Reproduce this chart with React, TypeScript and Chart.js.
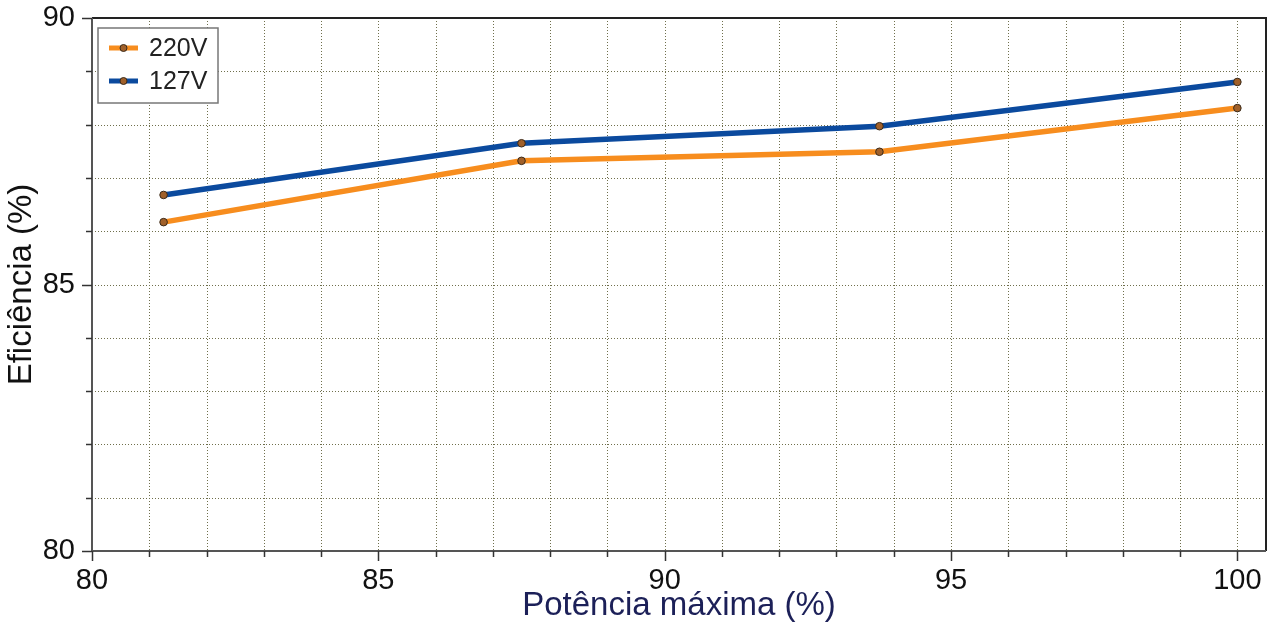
import React, { useEffect, useRef } from "react";
import { Chart, registerables } from "chart.js";

Chart.register(...registerables);

const xValues = [81.25, 87.5, 93.75, 100];
const series220 = [86.17, 87.32, 87.49, 88.31];
const series127 = [86.68, 87.65, 87.97, 88.8];
const seriesNames = ["220V", "127V"];
const seriesColors = ["#f78d1e", "#0b4a9e"];
const xGridValues = [81, 82, 83, 84, 85, 86, 87, 88, 89, 90, 91, 92, 93, 94, 95, 96, 97, 98, 99, 100];
const yGridValues = [81, 82, 83, 84, 85, 86, 87, 88, 89];

const FONT = "'Liberation Sans', 'DejaVu Sans', sans-serif";
const GRID = "#6f6f4c";

const gridPlugin = {
  id: "dottedGrid",
  beforeDatasetsDraw(chart: any) {
    const { ctx, chartArea } = chart;
    const { left, right, top, bottom } = chartArea;
    const xs = chart.scales.x;
    const ys = chart.scales.y;
    ctx.save();
    ctx.strokeStyle = GRID;
    ctx.lineWidth = 1;
    ctx.setLineDash([1, 2]);
    xGridValues.forEach((v) => {
      const px = Math.round(xs.getPixelForValue(v)) + 0.5;
      ctx.beginPath();
      ctx.moveTo(px, top);
      ctx.lineTo(px, bottom);
      ctx.stroke();
    });
    yGridValues.forEach((v) => {
      const py = Math.round(ys.getPixelForValue(v)) + 0.5;
      ctx.beginPath();
      ctx.moveTo(left, py);
      ctx.lineTo(right, py);
      ctx.stroke();
    });
    ctx.restore();
  },
};

const framePlugin = {
  id: "frameAndLegend",
  afterDraw(chart: any) {
    const { ctx, chartArea } = chart;
    const { left, right, top, bottom } = chartArea;
    ctx.save();
    ctx.strokeStyle = "#222";
    ctx.lineWidth = 2;
    ctx.beginPath();
    ctx.moveTo(left, top);
    ctx.lineTo(right, top);
    ctx.lineTo(right, bottom);
    ctx.stroke();
    ctx.strokeStyle = "#555";
    ctx.lineWidth = 2;
    ctx.beginPath();
    ctx.moveTo(left, top);
    ctx.lineTo(left, bottom);
    ctx.lineTo(right, bottom);
    ctx.stroke();
    const xs = chart.scales.x;
    const ys = chart.scales.y;
    ctx.strokeStyle = "#333";
    ctx.lineWidth = 1.5;
    for (let v = 80; v <= 100; v++) {
      const px = Math.round(xs.getPixelForValue(v)) + 0.5;
      const len = v % 5 === 0 ? 10 : 6;
      ctx.beginPath();
      ctx.moveTo(px, bottom);
      ctx.lineTo(px, bottom + len);
      ctx.stroke();
    }
    for (let v = 80; v <= 90; v++) {
      const py = Math.round(ys.getPixelForValue(v)) + 0.5;
      const len = v % 5 === 0 ? 10 : 6;
      ctx.beginPath();
      ctx.moveTo(left, py);
      ctx.lineTo(left - len, py);
      ctx.stroke();
    }
    const lx = left + 6;
    const ly = top + 10;
    const lw = 120;
    const lh = 75;
    ctx.fillStyle = "#fff";
    ctx.fillRect(lx, ly, lw, lh);
    ctx.strokeStyle = "#777";
    ctx.lineWidth = 1.5;
    ctx.strokeRect(lx, ly, lw, lh);
    seriesNames.forEach((name, i) => {
      const cy = ly + 20 + i * 33;
      ctx.strokeStyle = seriesColors[i];
      ctx.lineWidth = 5;
      ctx.beginPath();
      ctx.moveTo(lx + 11, cy);
      ctx.lineTo(lx + 40, cy);
      ctx.stroke();
      ctx.beginPath();
      ctx.arc(lx + 25.5, cy, 3.5, 0, Math.PI * 2);
      ctx.fillStyle = "#a0602a";
      ctx.fill();
      ctx.strokeStyle = "#3a2a1a";
      ctx.lineWidth = 1;
      ctx.stroke();
      ctx.fillStyle = "#222";
      ctx.font = `25px ${FONT}`;
      ctx.textBaseline = "middle";
      ctx.textAlign = "left";
      ctx.fillText(name, lx + 51, cy + 1);
    });
    ctx.restore();
  },
};

export default function App() {
  const ref = useRef<HTMLCanvasElement>(null);
  useEffect(() => {
    document.body.style.margin = "0";
    const canvas = ref.current!;
    const mkData = (vals: number[]) => xValues.map((x, i) => ({ x, y: vals[i] }));
    const chart = new Chart(canvas, {
      type: "line",
      data: {
        datasets: [series220, series127].map((vals, i) => ({
          label: seriesNames[i],
          data: mkData(vals),
          borderColor: seriesColors[i],
          borderWidth: 5.5,
          pointRadius: 3.8,
          pointBackgroundColor: "#a0602a",
          pointBorderColor: "#3a2a1a",
          pointBorderWidth: 1,
          tension: 0,
          fill: false,
        })),
      },
      options: {
        animation: false,
        responsive: false,
        maintainAspectRatio: false,
        layout: { padding: { top: 18, right: 5, left: 0, bottom: 0 } },
        plugins: { legend: { display: false }, tooltip: { enabled: false } },
        scales: {
          x: {
            type: "linear",
            min: 80,
            max: 100.5,
            afterFit: (s: any) => {
              s.height = 81;
              s.paddingLeft = 0;
              s.paddingRight = 0;
            },
            afterBuildTicks: (s: any) => {
              const t = [];
              for (let v = 80; v <= 100; v++) t.push({ value: v });
              s.ticks = t;
            },
            border: { display: false },
            grid: { display: false, drawTicks: false },
            ticks: {
              autoSkip: false,
              maxRotation: 0,
              padding: 13,
              color: "#111",
              font: { family: FONT, size: 29 },
              callback: (v: any) => (Number(v) % 5 === 0 ? String(v) : ""),
            },
            title: {
              display: true,
              text: "Potência máxima (%)",
              color: "#1c2058",
              font: { family: FONT, size: 33 },
              padding: { top: 0, bottom: 6 },
            },
          },
          y: {
            type: "linear",
            min: 80,
            max: 90,
            afterFit: (s: any) => {
              s.width = 92;
              s.paddingTop = 0;
              s.paddingBottom = 0;
            },
            afterBuildTicks: (s: any) => {
              const t = [];
              for (let v = 80; v <= 90; v++) t.push({ value: v });
              s.ticks = t;
            },
            border: { display: false },
            grid: { display: false, drawTicks: false },
            ticks: {
              autoSkip: false,
              padding: 17,
              color: "#111",
              font: { family: FONT, size: 29 },
              callback: (v: any) => (Number(v) % 5 === 0 ? String(v) : ""),
            },
            title: {
              display: true,
              text: "Eficiência (%)",
              color: "#111",
              font: { family: FONT, size: 33 },
              padding: { top: 2, bottom: 0 },
            },
          },
        },
      },
      plugins: [gridPlugin, framePlugin],
    });
    return () => chart.destroy();
  }, []);
  return (
    <div style={{ width: 1271, height: 632, background: "#fff" }}>
      <canvas ref={ref} width={1271} height={632} style={{ display: "block" }} />
    </div>
  );
}
